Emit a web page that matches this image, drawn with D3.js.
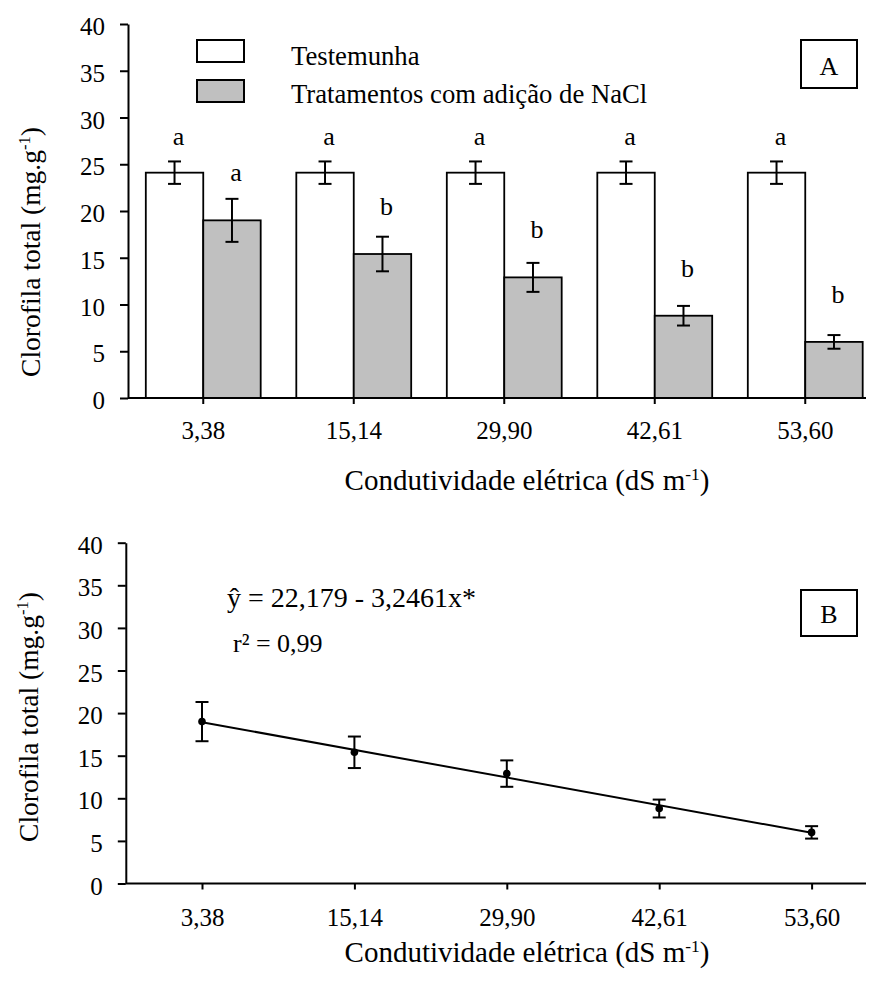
<!DOCTYPE html>
<html>
<head>
<meta charset="utf-8">
<script src="https://cdn.jsdelivr.net/npm/d3@7"></script>
<style>
body { margin: 0; background: #fff; }
svg text { font-family: "Liberation Serif", "Times New Roman", serif; fill: #000; }
</style>
</head>
<body>
<svg id="chart"></svg>
<script>
// Data ======>

var categories = ['3,38', '15,14', '29,90', '42,61', '53,60'] // condutividade eletrica (dS m-1)
var testemunha = [24.1, 24.1, 24.1, 24.1, 24.1]
var testemunhaErr = [1.2, 1.2, 1.2, 1.2, 1.2]
var nacl = [19.0, 15.4, 12.9, 8.8, 6.0]
var naclErr = [2.3, 1.85, 1.55, 1.05, 0.73]
var lettersTestemunha = ['a', 'a', 'a', 'a', 'a']
var lettersNacl = ['a', 'b', 'b', 'b', 'b']
var yTicks = [0, 5, 10, 15, 20, 25, 30, 35, 40]
var legendLabels = ['Testemunha', 'Tratamentos com adição de NaCl']
var regA = 22.179, regB = -3.2461 // y = a + b*x, x = 1..5

var width = 871, height = 981
var grey = '#c0c0c0'

var svg = d3.select('#chart')
    .attr('width', width)
    .attr('height', height)

svg.append('rect')
    .attr('width', width)
    .attr('height', height)
    .attr('fill', '#fff')

// draw a superscript label like "(mg.g-1)" - shift in px so ")" goes back to the baseline
function supText(sel, before, sup, after) {
    sel.append('tspan').text(before)
    sel.append('tspan').attr('font-size', '0.6em').attr('dy', -10).text(sup)
    sel.append('tspan').attr('dy', 10).text(after)
}

function styleAxis(g) {
    g.selectAll('.domain').attr('stroke', '#000').attr('stroke-width', 2)
    g.selectAll('.tick line').attr('stroke', '#000').attr('stroke-width', 2)
    g.selectAll('.tick text').attr('font-size', 25).attr('font-family', '"Liberation Serif", serif')
}

function errorBar(g, cx, yTop, yBot) {
    g.append('line').attr('x1', cx).attr('x2', cx).attr('y1', yTop).attr('y2', yBot)
    g.append('line').attr('x1', cx - 6.5).attr('x2', cx + 6.5).attr('y1', yTop).attr('y2', yTop)
    g.append('line').attr('x1', cx - 6.5).attr('x2', cx + 6.5).attr('y1', yBot).attr('y2', yBot)
}

// Chart A (bars) ======>

var a = { left: 128, right: 866, top: 24, bottom: 398 }

var x0 = d3.scaleBand()
    .domain(categories)
    .range([a.left, a.left + 5 * 150.5])

var x1 = d3.scaleBand()
    .domain(['t', 'n'])
    .range([0, x0.bandwidth()])
    .paddingOuter(0.31)

var yA = d3.scaleLinear()
    .domain([0, 40])
    .range([a.bottom, a.top])

var barsA = svg.append('g')

barsA.selectAll('rect.t')
    .data(testemunha)
    .enter()
    .append('rect')
    .attr('x', function(d, i) { return x0(categories[i]) + x1('t') })
    .attr('y', function(d) { return yA(d) })
    .attr('width', x1.bandwidth())
    .attr('height', function(d) { return yA(0) - yA(d) })
    .attr('fill', '#fff')
    .attr('stroke', '#000')
    .attr('stroke-width', 1.8)

barsA.selectAll('rect.n')
    .data(nacl)
    .enter()
    .append('rect')
    .attr('x', function(d, i) { return x0(categories[i]) + x1('n') })
    .attr('y', function(d) { return yA(d) })
    .attr('width', x1.bandwidth())
    .attr('height', function(d) { return yA(0) - yA(d) })
    .attr('fill', grey)
    .attr('stroke', '#000')
    .attr('stroke-width', 1.8)

var errA = svg.append('g').attr('stroke', '#000').attr('stroke-width', 2)
categories.forEach(function(c, i) {
    var ct = x0(c) + x1('t') + x1.bandwidth() / 2
    var cn = x0(c) + x1('n') + x1.bandwidth() / 2
    errorBar(errA, ct, yA(testemunha[i] + testemunhaErr[i]), yA(testemunha[i] - testemunhaErr[i]))
    errorBar(errA, cn, yA(nacl[i] + naclErr[i]), yA(nacl[i] - naclErr[i]))
})

// letters above bars
svg.append('g').selectAll('text')
    .data(lettersTestemunha)
    .enter()
    .append('text')
    .attr('x', function(d, i) { return x0(categories[i]) + x1('t') + x1.bandwidth() / 2 + 4 })
    .attr('y', function(d, i) { return yA(testemunha[i]) - 28 })
    .attr('text-anchor', 'middle')
    .attr('font-size', 26)
    .text(function(d) { return d })

svg.append('g').selectAll('text')
    .data(lettersNacl)
    .enter()
    .append('text')
    .attr('x', function(d, i) { return x0(categories[i]) + x1('n') + x1.bandwidth() / 2 + 4 })
    .attr('y', function(d, i) { return yA(nacl[i]) - 39 })
    .attr('text-anchor', 'middle')
    .attr('font-size', 26)
    .text(function(d) { return d })

var xAxisA = svg.append('g')
    .attr('transform', 'translate(0,' + a.bottom + ')')
    .call(d3.axisBottom(x0).tickSize(6).tickSizeOuter(0).tickPadding(17))
xAxisA.select('.domain').attr('d', 'M' + a.left + ',0H' + a.right)
styleAxis(xAxisA)

var yAxisA = svg.append('g')
    .attr('transform', 'translate(' + a.left + ',0)')
    .call(d3.axisLeft(yA).tickValues(yTicks).tickSize(8).tickSizeOuter(0).tickPadding(15))
styleAxis(yAxisA)
yAxisA.selectAll('.tick text').attr('dy', '0.42em')

// legend
var legend = svg.append('g')
legendLabels.forEach(function(l, i) {
    legend.append('rect')
        .attr('x', 197).attr('y', 40 + i * 40)
        .attr('width', 47).attr('height', 22)
        .attr('fill', i == 0 ? '#fff' : grey)
        .attr('stroke', '#000').attr('stroke-width', 2)
    legend.append('text')
        .attr('x', 291).attr('y', 65 + i * 38)
        .attr('font-size', 26.7)
        .text(l)
})

// box A
svg.append('rect').attr('x', 801).attr('y', 40).attr('width', 56).attr('height', 48)
    .attr('fill', 'none').attr('stroke', '#000').attr('stroke-width', 2)
svg.append('text').attr('x', 829).attr('y', 75).attr('text-anchor', 'middle')
    .attr('font-size', 26).text('A')

// axis titles
svg.append('text')
    .attr('transform', 'translate(40,252) rotate(-90)')
    .attr('text-anchor', 'middle')
    .attr('font-size', 27.5)
    .call(supText, 'Clorofila total (mg.g', '-1', ')')

svg.append('text')
    .attr('x', 527).attr('y', 490)
    .attr('text-anchor', 'middle')
    .attr('font-size', 29)
    .call(supText, 'Condutividade elétrica (dS m', '-1', ')')

// Chart B (regression) ======>

var b = { left: 125.8, right: 866, top: 542.7, bottom: 883.5 }

var xB = d3.scalePoint()
    .domain(categories)
    .range([b.left, b.left + 5 * 152.4])
    .padding(0.5)

var yB = d3.scaleLinear()
    .domain([0, 40])
    .range([b.bottom, b.top])

// fitted line across the five levels
var fit = [0, categories.length - 1].map(function(i) {
    return [xB(categories[i]), yB(regA + regB * (i + 1))]
})
svg.append('path')
    .attr('d', d3.line()(fit))
    .attr('stroke', '#000')
    .attr('stroke-width', 2)
    .attr('fill', 'none')

var errB = svg.append('g').attr('stroke', '#000').attr('stroke-width', 2)
categories.forEach(function(c, i) {
    errorBar(errB, xB(c), yB(nacl[i] + naclErr[i]), yB(nacl[i] - naclErr[i]))
})

svg.append('g').selectAll('circle')
    .data(nacl)
    .enter()
    .append('circle')
    .attr('cx', function(d, i) { return xB(categories[i]) })
    .attr('cy', function(d) { return yB(d) })
    .attr('r', 3.8)
    .attr('fill', '#000')

var xAxisB = svg.append('g')
    .attr('transform', 'translate(0,' + b.bottom + ')')
    .call(d3.axisBottom(xB).tickSize(6).tickSizeOuter(0).tickPadding(19))
xAxisB.select('.domain').attr('d', 'M' + b.left + ',0H' + b.right)
styleAxis(xAxisB)

var yAxisB = svg.append('g')
    .attr('transform', 'translate(' + b.left + ',0)')
    .call(d3.axisLeft(yB).tickValues(yTicks).tickSize(8).tickSizeOuter(0).tickPadding(15))
styleAxis(yAxisB)
yAxisB.selectAll('.tick text').attr('dy', '0.42em')

// equation
svg.append('text').attr('x', 227).attr('y', 607).attr('font-size', 28)
    .text('ŷ = 22,179 - 3,2461x*')
svg.append('text').attr('x', 233).attr('y', 652).attr('font-size', 26)
    .text('r² = 0,99')

// box B
svg.append('rect').attr('x', 801).attr('y', 590).attr('width', 56).attr('height', 46)
    .attr('fill', 'none').attr('stroke', '#000').attr('stroke-width', 2)
svg.append('text').attr('x', 829).attr('y', 623).attr('text-anchor', 'middle')
    .attr('font-size', 26).text('B')

svg.append('text')
    .attr('transform', 'translate(38,717) rotate(-90)')
    .attr('text-anchor', 'middle')
    .attr('font-size', 27.5)
    .call(supText, 'Clorofila total (mg.g', '-1', ')')

svg.append('text')
    .attr('x', 527).attr('y', 962)
    .attr('text-anchor', 'middle')
    .attr('font-size', 29)
    .call(supText, 'Condutividade elétrica (dS m', '-1', ')')
</script>
</body>
</html>
